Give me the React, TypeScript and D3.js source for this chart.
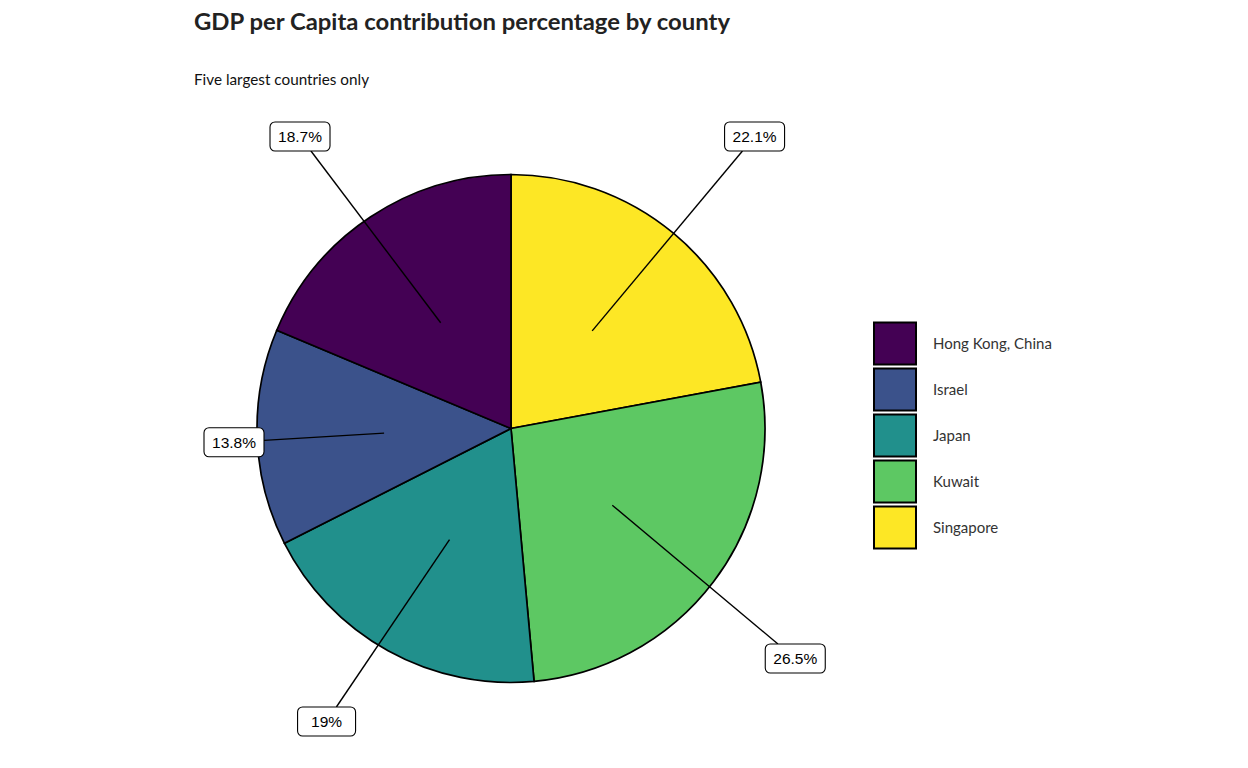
import React from "react";
import * as d3 from "d3";

const countries = ["Hong Kong, China", "Israel", "Japan", "Kuwait", "Singapore"];
const shares = [18.7, 13.8, 19, 26.5, 22.1];
const labels = ["18.7%", "13.8%", "19%", "26.5%", "22.1%"];
const colors = ["#440154", "#3B528B", "#21908C", "#5DC863", "#FDE725"];

const W = 1248;
const H = 768;
const cx = 511;
const cy = 428.5;
const R = 254;
const panel = { left: 204, right: 860, top: 122, bottom: 736 };

export default function App() {
  // clockwise from top: Singapore, Kuwait, Japan, Israel, Hong Kong
  const order = [4, 3, 2, 1, 0];
  const pie = d3
    .pie<number>()
    .sort(null)
    .value((i) => shares[i]);
  const arcs = pie(order);
  const arcGen = d3.arc<d3.PieArcDatum<number>>().innerRadius(0).outerRadius(R);

  const boxH = 29;
  const charW = 8.4;

  const labelItems = arcs.map((a) => {
    const i = a.data;
    const mid = (a.startAngle + a.endAngle) / 2;
    const text = labels[i];
    const bw = Math.max(40, text.length * charW) + 18;
    // pulled slightly toward the vertical axis, as a repel layout does
    const rf = 1.5 - 0.1 * Math.abs(Math.sin(mid) * Math.cos(mid)) * (Math.cos(mid) < 0 && Math.sin(mid) > 0 ? 2 : 0);
    let lx = cx + Math.sin(mid) * R * rf;
    let ly = cy - Math.cos(mid) * R * 1.5;
    lx = Math.min(Math.max(lx, panel.left + bw / 2), panel.right - bw / 2);
    ly = Math.min(Math.max(ly, panel.top + boxH / 2), panel.bottom - boxH / 2);
    const ix = cx + Math.sin(mid) * R * 0.5;
    const iy = cy - Math.cos(mid) * R * 0.5;
    const dx = ix - lx;
    const dy = iy - ly;
    const tx = dx !== 0 ? bw / 2 / Math.abs(dx) : Infinity;
    const ty = dy !== 0 ? boxH / 2 / Math.abs(dy) : Infinity;
    const t = Math.min(tx, ty, 1);
    const ex = lx + dx * t;
    const ey = ly + dy * t;
    return { i, text, bw, lx, ly, ix, iy, ex, ey };
  });

  const keyY = d3
    .scaleBand<string>()
    .domain(countries)
    .range([322.5, 548.5])
    .paddingInner(4 / 46)
    .paddingOuter(0);

  return (
    <svg width={W} height={H} style={{ position: "absolute", left: 0, top: 0, background: "#fff" }}>
      <text
        x={194}
        y={30}
        fontFamily="Lato, 'Noto Sans', sans-serif"
        fontWeight="bold"
        fontSize={23}
        fill="#222"
        textLength={536}
        lengthAdjust="spacingAndGlyphs"
      >
        GDP per Capita contribution percentage by county
      </text>
      <text
        x={194}
        y={85}
        fontFamily="Lato, 'Noto Sans', sans-serif"
        fontSize={15}
        fill="#111"
        textLength={175}
        lengthAdjust="spacingAndGlyphs"
      >
        Five largest countries only
      </text>

      <g transform={`translate(${cx},${cy})`}>
        {arcs.map((a) => (
          <path
            key={a.data}
            d={arcGen(a) || ""}
            fill={colors[a.data]}
            stroke="#000"
            strokeWidth={1.7}
          />
        ))}
      </g>

      {labelItems.map((l) => (
        <g key={l.i}>
          <line x1={l.ix} y1={l.iy} x2={l.ex} y2={l.ey} stroke="#000" strokeWidth={1.4} />
          <rect
            x={l.lx - l.bw / 2}
            y={l.ly - boxH / 2}
            width={l.bw}
            height={boxH}
            rx={5}
            fill="#fff"
            stroke="#000"
            strokeWidth={1.1}
          />
          <text
            x={l.lx}
            y={l.ly + 5.5}
            textAnchor="middle"
            fontFamily="'Liberation Sans', Arial, sans-serif"
            fontSize={15.5}
            fill="#000"
          >
            {l.text}
          </text>
        </g>
      ))}

      {countries.map((c, i) => {
        const y = keyY(c)!;
        const h = keyY.bandwidth();
        return (
          <g key={c}>
            <rect x={874} y={y} width={42} height={h} fill={colors[i]} stroke="#000" strokeWidth={2} />
            <text
              x={933}
              y={y + h / 2 + 5.5}
              fontFamily="Lato, 'Noto Sans', sans-serif"
              fontSize={15}
              fill="#333"
            >
              {c}
            </text>
          </g>
        );
      })}
    </svg>
  );
}
